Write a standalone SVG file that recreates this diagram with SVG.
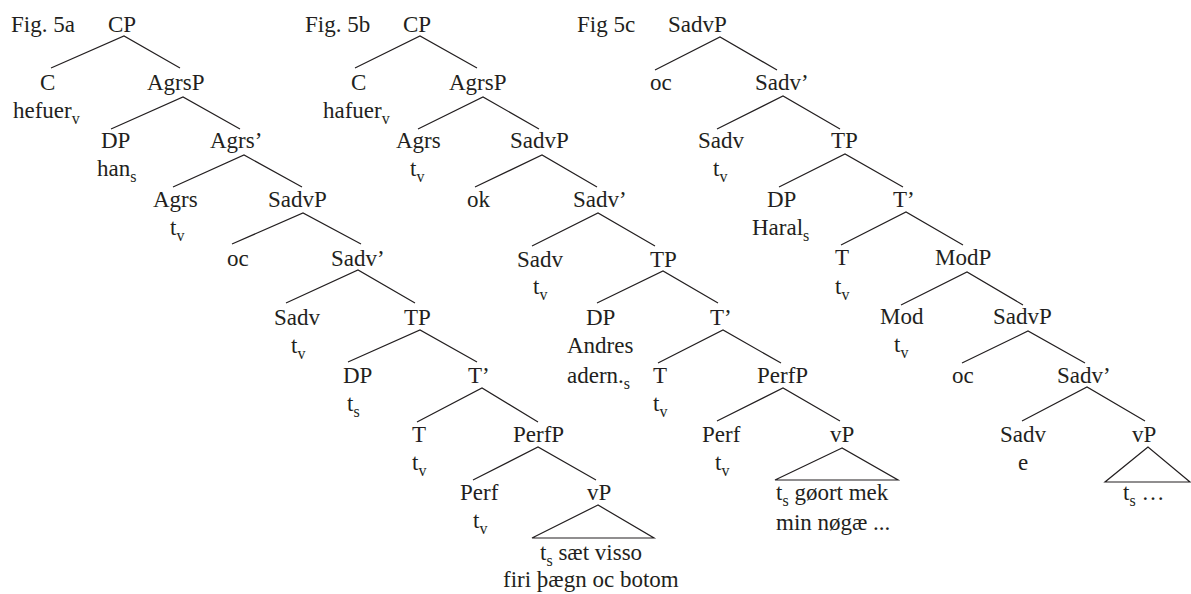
<svg xmlns="http://www.w3.org/2000/svg" width="1191" height="594" viewBox="0 0 1191 594">
  <style>
    text { font-family: 'Liberation Serif', serif !important; font-size: 23px; fill: #231f20; }
    tspan.sub { font-size: 16px; }
    .edge { stroke: #231f20; stroke-width: 1.2; fill: none; }
  </style>
  <rect width="1191" height="594" fill="#ffffff"/>

  <!-- Branches and triangles of all three trees -->
  <g id="connectors" class="edge">
    <!-- tree 5a -->
    <path d="M51,68 L124,36 L180,68"/>
    <path d="M111,129 L183,97 L240,129"/>
    <path d="M173,187 L244,155 L302,187"/>
    <path d="M232,244 L303,213 L361,244"/>
    <path d="M286,303 L358,270 L415,303"/>
    <path d="M348,362 L420,330 L477,362"/>
    <path d="M417,422 L482,388 L538,422"/>
    <path d="M473,480 L538,447 L596,480"/>
    <path d="M598,505 L532,538 L654,538 Z"/>
    <!-- tree 5b -->
    <path d="M355,68 L420,36 L477,68"/>
    <path d="M418,129 L483,97 L539,129"/>
    <path d="M475,187 L542,155 L597,187"/>
    <path d="M532,246 L598,213 L655,246"/>
    <path d="M597,303 L663,271 L718,303"/>
    <path d="M658,363 L723,330 L781,363"/>
    <path d="M717,421 L783,388 L840,421"/>
    <path d="M842,448 L775,480 L898,480 Z"/>
    <!-- tree 5c -->
    <path d="M655,70 L720,37 L777,70"/>
    <path d="M717,129 L783,96 L840,129"/>
    <path d="M779,187 L845,154 L903,187"/>
    <path d="M841,245 L906,212 L963,245"/>
    <path d="M901,305 L967,272 L1023,305"/>
    <path d="M962,363 L1028,331 L1085,363"/>
    <path d="M1022,421 L1087,387 L1145,421"/>
    <path d="M1148,447 L1105,482 L1190,482 Z"/>
  </g>

  <!-- Figure captions -->
  <g id="captions">
    <text font-family="Liberation Serif, serif" x="11" y="32">Fig. 5a</text>
    <text font-family="Liberation Serif, serif" x="305" y="32">Fig. 5b</text>
    <text font-family="Liberation Serif, serif" x="577" y="32">Fig 5c</text>
  </g>

  <!-- Tree 5a -->
  <g id="a-CP"><text font-family="Liberation Serif, serif" x="108" y="32">CP</text></g>
  <g id="a-C"><text font-family="Liberation Serif, serif" x="40" y="90">C</text><text font-family="Liberation Serif, serif" x="13" y="118">hefuer<tspan class="sub" dy="6">v</tspan></text></g>
  <g id="a-AgrsP"><text font-family="Liberation Serif, serif" x="147" y="90">AgrsP</text></g>
  <g id="a-DP"><text font-family="Liberation Serif, serif" x="101" y="148">DP</text><text font-family="Liberation Serif, serif" x="97" y="176">han<tspan class="sub" dy="6">s</tspan></text></g>
  <g id="a-AgrsBar"><text font-family="Liberation Serif, serif" x="210" y="148">Agrs’</text></g>
  <g id="a-Agrs"><text font-family="Liberation Serif, serif" x="153" y="207">Agrs</text><text font-family="Liberation Serif, serif" x="170" y="235">t<tspan class="sub" dy="6">v</tspan></text></g>
  <g id="a-SadvP"><text font-family="Liberation Serif, serif" x="268" y="207">SadvP</text></g>
  <g id="a-oc"><text font-family="Liberation Serif, serif" x="227" y="266">oc</text></g>
  <g id="a-SadvBar"><text font-family="Liberation Serif, serif" x="331" y="266">Sadv’</text></g>
  <g id="a-Sadv"><text font-family="Liberation Serif, serif" x="274" y="325">Sadv</text><text font-family="Liberation Serif, serif" x="291" y="353">t<tspan class="sub" dy="6">v</tspan></text></g>
  <g id="a-TP"><text font-family="Liberation Serif, serif" x="404" y="325">TP</text></g>
  <g id="a-DP2"><text font-family="Liberation Serif, serif" x="343" y="383">DP</text><text font-family="Liberation Serif, serif" x="347" y="411">t<tspan class="sub" dy="6">s</tspan></text></g>
  <g id="a-TBar"><text font-family="Liberation Serif, serif" x="468" y="383">T’</text></g>
  <g id="a-T"><text font-family="Liberation Serif, serif" x="412" y="442">T</text><text font-family="Liberation Serif, serif" x="412" y="470">t<tspan class="sub" dy="6">v</tspan></text></g>
  <g id="a-PerfP"><text font-family="Liberation Serif, serif" x="513" y="442">PerfP</text></g>
  <g id="a-Perf"><text font-family="Liberation Serif, serif" x="460" y="500">Perf</text><text font-family="Liberation Serif, serif" x="473" y="528">t<tspan class="sub" dy="6">v</tspan></text></g>
  <g id="a-vP"><text font-family="Liberation Serif, serif" x="587" y="500">vP</text>
    <text font-family="Liberation Serif, serif" x="540" y="560">t<tspan class="sub" dy="6">s</tspan><tspan dy="-6"> sæt visso</tspan></text>
    <text font-family="Liberation Serif, serif" x="503" y="587">firi þægn oc botom</text></g>

  <!-- Tree 5b -->
  <g id="b-CP"><text font-family="Liberation Serif, serif" x="403" y="32">CP</text></g>
  <g id="b-C"><text font-family="Liberation Serif, serif" x="351" y="90">C</text><text font-family="Liberation Serif, serif" x="323" y="118">hafuer<tspan class="sub" dy="6">v</tspan></text></g>
  <g id="b-AgrsP"><text font-family="Liberation Serif, serif" x="449" y="90">AgrsP</text></g>
  <g id="b-Agrs"><text font-family="Liberation Serif, serif" x="396" y="148">Agrs</text><text font-family="Liberation Serif, serif" x="410" y="176">t<tspan class="sub" dy="6">v</tspan></text></g>
  <g id="b-SadvP"><text font-family="Liberation Serif, serif" x="510" y="148">SadvP</text></g>
  <g id="b-ok"><text font-family="Liberation Serif, serif" x="467" y="207">ok</text></g>
  <g id="b-SadvBar"><text font-family="Liberation Serif, serif" x="573" y="207">Sadv’</text></g>
  <g id="b-Sadv"><text font-family="Liberation Serif, serif" x="517" y="267">Sadv</text><text font-family="Liberation Serif, serif" x="533" y="294">t<tspan class="sub" dy="6">v</tspan></text></g>
  <g id="b-TP"><text font-family="Liberation Serif, serif" x="650" y="267">TP</text></g>
  <g id="b-DP"><text font-family="Liberation Serif, serif" x="586" y="325">DP</text><text font-family="Liberation Serif, serif" x="567" y="353">Andres</text>
    <text font-family="Liberation Serif, serif" x="567" y="383">adern.<tspan class="sub" dy="6">s</tspan></text></g>
  <g id="b-TBar"><text font-family="Liberation Serif, serif" x="710" y="325">T’</text></g>
  <g id="b-T"><text font-family="Liberation Serif, serif" x="653" y="383">T</text><text font-family="Liberation Serif, serif" x="653" y="411">t<tspan class="sub" dy="6">v</tspan></text></g>
  <g id="b-PerfP"><text font-family="Liberation Serif, serif" x="757" y="383">PerfP</text></g>
  <g id="b-Perf"><text font-family="Liberation Serif, serif" x="702" y="442">Perf</text><text font-family="Liberation Serif, serif" x="715" y="470">t<tspan class="sub" dy="6">v</tspan></text></g>
  <g id="b-vP"><text font-family="Liberation Serif, serif" x="830" y="442">vP</text>
    <text font-family="Liberation Serif, serif" x="776" y="500">t<tspan class="sub" dy="6">s</tspan><tspan dy="-6"> gøort mek</tspan></text>
    <text font-family="Liberation Serif, serif" x="776" y="530">min nøgæ ...</text></g>

  <!-- Tree 5c -->
  <g id="c-SadvP"><text font-family="Liberation Serif, serif" x="668" y="32">SadvP</text></g>
  <g id="c-oc"><text font-family="Liberation Serif, serif" x="650" y="90">oc</text></g>
  <g id="c-SadvBar"><text font-family="Liberation Serif, serif" x="755" y="90">Sadv’</text></g>
  <g id="c-Sadv"><text font-family="Liberation Serif, serif" x="698" y="148">Sadv</text><text font-family="Liberation Serif, serif" x="713" y="176">t<tspan class="sub" dy="6">v</tspan></text></g>
  <g id="c-TP"><text font-family="Liberation Serif, serif" x="831" y="148">TP</text></g>
  <g id="c-DP"><text font-family="Liberation Serif, serif" x="767" y="207">DP</text><text font-family="Liberation Serif, serif" x="752" y="235">Haral<tspan class="sub" dy="6">s</tspan></text></g>
  <g id="c-TBar"><text font-family="Liberation Serif, serif" x="893" y="207">T’</text></g>
  <g id="c-T"><text font-family="Liberation Serif, serif" x="835" y="265">T</text><text font-family="Liberation Serif, serif" x="835" y="294">t<tspan class="sub" dy="6">v</tspan></text></g>
  <g id="c-ModP"><text font-family="Liberation Serif, serif" x="935" y="265">ModP</text></g>
  <g id="c-Mod"><text font-family="Liberation Serif, serif" x="880" y="324">Mod</text><text font-family="Liberation Serif, serif" x="894" y="352">t<tspan class="sub" dy="6">v</tspan></text></g>
  <g id="c-SadvP2"><text font-family="Liberation Serif, serif" x="993" y="324">SadvP</text></g>
  <g id="c-oc2"><text font-family="Liberation Serif, serif" x="952" y="383">oc</text></g>
  <g id="c-SadvBar2"><text font-family="Liberation Serif, serif" x="1057" y="383">Sadv’</text></g>
  <g id="c-Sadv2"><text font-family="Liberation Serif, serif" x="1000" y="442">Sadv</text><text font-family="Liberation Serif, serif" x="1018" y="470">e</text></g>
  <g id="c-vP"><text font-family="Liberation Serif, serif" x="1132" y="442">vP</text>
    <text font-family="Liberation Serif, serif" x="1123" y="500">t<tspan class="sub" dy="6">s</tspan><tspan dy="-6"> …</tspan></text></g>
</svg>
